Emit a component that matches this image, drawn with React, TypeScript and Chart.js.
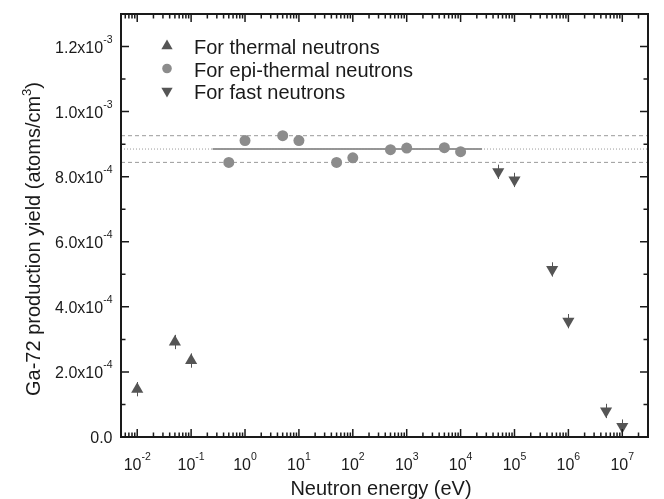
import React, { useEffect, useRef } from 'react';
import { Chart, registerables } from 'chart.js';

Chart.register(...registerables);

// ---- data ----
const thermalEnergy = [0.01, 0.05, 0.1];
const thermalYield = [1.47e-4, 2.92e-4, 2.35e-4];
const thermalErr = [2.2e-5, 2.2e-5, 2.2e-5];

const epiEnergy = [0.5, 1, 5, 10, 50, 100, 500, 1000, 5000, 10000];
const epiYield = [8.44e-4, 9.11e-4, 9.26e-4, 9.11e-4, 8.44e-4, 8.58e-4, 8.83e-4, 8.88e-4, 8.89e-4, 8.77e-4];

const fastEnergy = [5e4, 1e5, 5e5, 1e6, 5e6, 1e7];
const fastYield = [8.15e-4, 7.9e-4, 5.15e-4, 3.56e-4, 0.8e-4, 0.32e-4];
const fastErr = [2.2e-5, 2.2e-5, 2.2e-5, 2.2e-5, 2.2e-5, 2.2e-5];

const meanYield = 8.85e-4;
const bandUpper = 9.26e-4;
const bandLower = 8.44e-4;
const fitRange = [0.25, 2.5e4];

const xRange = [5e-3, 3e7];
const yRange = [0, 1.3e-3];

const xMajorExponents = [-2, -1, 0, 1, 2, 3, 4, 5, 6, 7];
const xTickBase = '10';
const yMajorTicks = [0, 2e-4, 4e-4, 6e-4, 8e-4, 1.0e-3, 1.2e-3];
const yMajorMantissa = ['0.0', '2.0x10', '4.0x10', '6.0x10', '8.0x10', '1.0x10', '1.2x10'];
const yMajorExponent = ['', '-4', '-4', '-4', '-4', '-3', '-3'];
const yMinorTicks = [1e-4, 3e-4, 5e-4, 7e-4, 9e-4, 1.1e-3];

const seriesLabels = ['For thermal neutrons', 'For epi-thermal neutrons', 'For fast neutrons'];
const xTitle = 'Neutron energy (eV)';
const yTitleMain = 'Ga-72 production yield (atoms/cm';
const yTitleSup = '3';
const yTitleEnd = ')';

const FONT = '"Liberation Sans", Arial, Helvetica, sans-serif';
const DARK = '#555555';
const LIGHT = '#8c8c8c';
const AXIS = '#1a1a1a';
const TEXT = '#1a1a1a';

function drawPow(ctx: CanvasRenderingContext2D, base: string, exp: string, x: number, y: number, align: 'center' | 'right', size: number, supSize: number, raise: number) {
  ctx.font = `${size}px ${FONT}`;
  const wb = ctx.measureText(base).width;
  ctx.font = `${supSize}px ${FONT}`;
  const we = exp ? ctx.measureText(exp).width : 0;
  const total = wb + we;
  const start = align === 'center' ? x - total / 2 : x - total;
  ctx.textAlign = 'left';
  ctx.textBaseline = 'alphabetic';
  ctx.font = `${size}px ${FONT}`;
  ctx.fillText(base, start, y);
  if (exp) {
    ctx.font = `${supSize}px ${FONT}`;
    ctx.fillText(exp, start + wb, y - raise);
  }
}

const decorPlugin = {
  id: 'decor',
  beforeDatasetsDraw(chart: any) {
    const ctx: CanvasRenderingContext2D = chart.ctx;
    const xs = chart.scales.x;
    const ys = chart.scales.y;
    ctx.save();
    ctx.strokeStyle = DARK;
    ctx.lineWidth = 1;
    const bars = (ex: number[], ey: number[], err: number[]) => {
      ex.forEach((e, i) => {
        const px = Math.round(xs.getPixelForValue(e)) + 0.5;
        ctx.beginPath();
        ctx.moveTo(px, ys.getPixelForValue(ey[i] - err[i]));
        ctx.lineTo(px, ys.getPixelForValue(ey[i] + err[i]));
        ctx.stroke();
      });
    };
    bars(thermalEnergy, thermalYield, thermalErr);
    bars(fastEnergy, fastYield, fastErr);
    ctx.restore();
  },
  afterDraw(chart: any) {
    const ctx: CanvasRenderingContext2D = chart.ctx;
    const xs = chart.scales.x;
    const ys = chart.scales.y;
    const a = chart.chartArea;
    ctx.save();
    // frame
    ctx.strokeStyle = AXIS;
    ctx.lineWidth = 2;
    ctx.strokeRect(a.left, a.top, a.right - a.left, a.bottom - a.top);
    // x ticks
    ctx.lineWidth = 1.5;
    const xTick = (v: number, len: number) => {
      const px = xs.getPixelForValue(v);
      if (px < a.left + 1 || px > a.right - 1) return;
      ctx.beginPath();
      ctx.moveTo(px, a.bottom);
      ctx.lineTo(px, a.bottom - len);
      ctx.moveTo(px, a.top);
      ctx.lineTo(px, a.top + len);
      ctx.stroke();
    };
    for (let e = -3; e <= 7; e++) {
      for (let m = 1; m <= 9; m++) {
        const v = m * Math.pow(10, e);
        if (v < xRange[0] || v > xRange[1]) continue;
        xTick(v, m === 1 ? 8 : 4.5);
      }
    }
    // y ticks
    const yTick = (v: number, len: number) => {
      const py = ys.getPixelForValue(v);
      ctx.beginPath();
      ctx.moveTo(a.left, py);
      ctx.lineTo(a.left + len, py);
      ctx.moveTo(a.right, py);
      ctx.lineTo(a.right - len, py);
      ctx.stroke();
    };
    yMajorTicks.forEach((v) => yTick(v, 8));
    yMinorTicks.forEach((v) => yTick(v, 4.5));

    // tick labels
    ctx.fillStyle = TEXT;
    xMajorExponents.forEach((e) => {
      const px = xs.getPixelForValue(Math.pow(10, e));
      drawPow(ctx, xTickBase, String(e), px, 470, 'center', 16, 10.5, 10);
    });
    yMajorTicks.forEach((v, i) => {
      const py = ys.getPixelForValue(v);
      drawPow(ctx, yMajorMantissa[i], yMajorExponent[i], 112.5, py + 6, 'right', 16, 10.5, 10);
    });

    // axis titles
    ctx.font = `20px ${FONT}`;
    ctx.textAlign = 'center';
    ctx.textBaseline = 'alphabetic';
    ctx.fillText(xTitle, 381, 495);

    ctx.save();
    ctx.translate(40, 239);
    ctx.rotate(-Math.PI / 2);
    ctx.font = `20px ${FONT}`;
    const w1 = ctx.measureText(yTitleMain).width;
    ctx.font = `13px ${FONT}`;
    const w2 = ctx.measureText(yTitleSup).width;
    ctx.font = `20px ${FONT}`;
    const w3 = ctx.measureText(yTitleEnd).width;
    const tot = w1 + w2 + w3;
    const sx = -tot / 2;
    ctx.textAlign = 'left';
    ctx.fillText(yTitleMain, sx, 0);
    ctx.font = `13px ${FONT}`;
    ctx.fillText(yTitleSup, sx + w1, -9);
    ctx.font = `20px ${FONT}`;
    ctx.fillText(yTitleEnd, sx + w1 + w2, 0);
    ctx.restore();

    // legend
    const rows = [
      { y: 54, color: DARK, style: 'triangle', rot: 0, r: 6.5 },
      { y: 76.5, color: LIGHT, style: 'circle', rot: 0, r: 4.8 },
      { y: 99, color: DARK, style: 'triangle', rot: 180, r: 6.5 },
    ];
    rows.forEach((row, i) => {
      ctx.fillStyle = row.color;
      const cy = row.y - 8;
      ctx.beginPath();
      if (row.style === 'circle') {
        ctx.arc(167, cy, row.r, 0, Math.PI * 2);
      } else {
        const dir = row.rot === 180 ? -1 : 1;
        const r = row.r;
        ctx.moveTo(167, cy - dir * r);
        ctx.lineTo(167 + r * 0.866, cy + dir * r * 0.5);
        ctx.lineTo(167 - r * 0.866, cy + dir * r * 0.5);
        ctx.closePath();
      }
      ctx.fill();
      ctx.fillStyle = TEXT;
      ctx.font = `20px ${FONT}`;
      ctx.textAlign = 'left';
      ctx.textBaseline = 'alphabetic';
      ctx.fillText(seriesLabels[i], 194, row.y);
    });
    ctx.restore();
  },
};

export default function App() {
  const ref = useRef<HTMLCanvasElement | null>(null);
  useEffect(() => {
    if (!ref.current) return;
    const lineDs = (data: { x: number; y: number }[], color: string, width: number, dash: number[]) => ({
      type: 'line' as const,
      data,
      borderColor: color,
      borderWidth: width,
      borderDash: dash,
      pointRadius: 0,
      showLine: true,
      fill: false,
      clip: false as any,
      order: 5,
    });
    const chart = new Chart(ref.current, {
      type: 'scatter',
      data: {
        datasets: [
          lineDs([{ x: xRange[0], y: bandUpper }, { x: xRange[1], y: bandUpper }], '#9a9a9a', 1, [4, 3]),
          lineDs([{ x: xRange[0], y: bandLower }, { x: xRange[1], y: bandLower }], '#9a9a9a', 1, [4, 3]),
          lineDs([{ x: xRange[0], y: meanYield }, { x: xRange[1], y: meanYield }], '#9a9a9a', 1, [1, 2]),
          lineDs([{ x: fitRange[0], y: meanYield }, { x: fitRange[1], y: meanYield }], '#959595', 2, []),
          {
            label: seriesLabels[0],
            data: thermalEnergy.map((x, i) => ({ x, y: thermalYield[i] })),
            pointStyle: 'triangle',
            pointRadius: 7,
            pointBackgroundColor: DARK,
            pointBorderColor: DARK,
            pointBorderWidth: 0,
            clip: false as any,
            order: 1,
          },
          {
            label: seriesLabels[1],
            data: epiEnergy.map((x, i) => ({ x, y: epiYield[i] })),
            pointStyle: 'circle',
            pointRadius: 5.5,
            pointBackgroundColor: LIGHT,
            pointBorderColor: LIGHT,
            pointBorderWidth: 0,
            clip: false as any,
            order: 1,
          },
          {
            label: seriesLabels[2],
            data: fastEnergy.map((x, i) => ({ x, y: fastYield[i] })),
            pointStyle: 'triangle',
            pointRotation: 180,
            pointRadius: 7,
            pointBackgroundColor: DARK,
            pointBorderColor: DARK,
            pointBorderWidth: 0,
            clip: false as any,
            order: 1,
          },
        ],
      },
      options: {
        responsive: false,
        animation: false,
        devicePixelRatio: 1,
        layout: { padding: { left: 121, top: 14, right: 16, bottom: 62 } },
        plugins: { legend: { display: false }, tooltip: { enabled: false } },
        scales: {
          x: { type: 'logarithmic', min: xRange[0], max: xRange[1], display: false },
          y: { type: 'linear', min: yRange[0], max: yRange[1], display: false },
        },
      },
      plugins: [decorPlugin],
    });
    return () => chart.destroy();
  }, []);
  return (
    <div style={{ position: 'fixed', left: 0, top: 0, width: 664, height: 499, background: '#fff' }}>
      <canvas ref={ref} width={664} height={499} style={{ width: 664, height: 499, display: 'block' }} />
    </div>
  );
}
